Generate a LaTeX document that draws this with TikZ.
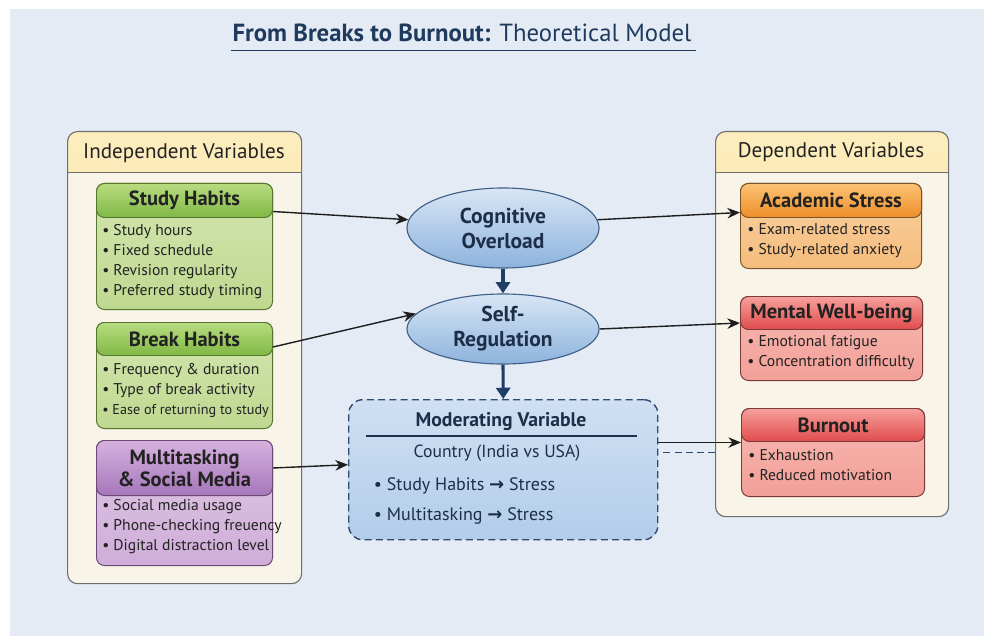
\documentclass[tikz,border=0pt]{standalone}
\usepackage{fontspec}
\setmainfont{PT Sans}
\newfontfamily\symfont{DejaVu Sans}
\usetikzlibrary{arrows.meta,positioning,shapes.geometric}

\definecolor{bgpanel}{HTML}{E5EBF5}
\definecolor{panelfill}{HTML}{F8F4E8}
\definecolor{panelline}{HTML}{6E6E6E}
\definecolor{panelheadtop}{HTML}{FDEDBE}
\definecolor{panelheadbot}{HTML}{F6D383}
\definecolor{textdark}{HTML}{222222}
\definecolor{titlenavy}{HTML}{1E3A5C}
\definecolor{greenline}{HTML}{56752E}
\definecolor{greenheadtop}{HTML}{B8DC80}
\definecolor{greenheadbot}{HTML}{80B845}
\definecolor{greenbodytop}{HTML}{D4E6B0}
\definecolor{greenbodybot}{HTML}{BFD890}
\definecolor{purpleline}{HTML}{6A4A74}
\definecolor{purpleheadtop}{HTML}{D6B2DF}
\definecolor{purpleheadbot}{HTML}{A676BA}
\definecolor{purplebodytop}{HTML}{E0C8E6}
\definecolor{purplebodybot}{HTML}{CFADD8}
\definecolor{orangeline}{HTML}{7A5328}
\definecolor{orangeheadtop}{HTML}{FBC474}
\definecolor{orangeheadbot}{HTML}{EE8E2A}
\definecolor{orangebodytop}{HTML}{F9D2A2}
\definecolor{orangebodybot}{HTML}{F5BC7C}
\definecolor{redline}{HTML}{7A3A38}
\definecolor{redheadtop}{HTML}{F6A09C}
\definecolor{redheadbot}{HTML}{E04C4C}
\definecolor{redbodytop}{HTML}{F7B8B2}
\definecolor{redbodybot}{HTML}{F2A098}
\definecolor{ellline}{HTML}{3E5F86}
\definecolor{elltop}{HTML}{D8E6F5}
\definecolor{ellbot}{HTML}{8DB3DD}
\definecolor{navytext}{HTML}{1C2E48}
\definecolor{modline}{HTML}{2F4A6E}
\definecolor{modtop}{HTML}{CFE0F2}
\definecolor{modbot}{HTML}{B2CDEA}
\definecolor{arrowdark}{HTML}{1E1E1E}
\definecolor{navy}{HTML}{1F3D66}

\tikzset{
	panel/.style={draw=panelline, fill=panelfill, line width=0.8pt, rounded corners=0.25cm, anchor=north west, inner sep=0pt,
		path picture={
			\shade[top color=panelheadtop, bottom color=panelheadbot, sharp corners] (path picture bounding box.north west) rectangle ([yshift=-1.025cm]path picture bounding box.north east);
			\draw[panelline, line width=0.8pt, sharp corners] ([yshift=-1.025cm]path picture bounding box.north west) -- ([yshift=-1.025cm]path picture bounding box.north east);
		}},
	paneltitle/.style={font=\fontsize{15}{17}\selectfont, text=textdark},
	bodybox/.style={draw=#1line, top color=#1bodytop, bottom color=#1bodybot, line width=0.7pt, rounded corners=0.2cm, anchor=north west, inner sep=0pt},
	headbox/.style={draw=#1line, top color=#1headtop, bottom color=#1headbot, line width=0.7pt, rounded corners=0.2cm, anchor=north west, inner sep=0pt,
		font=\fontsize{14.6}{15.6}\selectfont\bfseries, text=textdark, align=center},
	items/.style={anchor=west, inner sep=0pt, align=left, font=\fontsize{11.1}{14.2}\selectfont, text=textdark},
	latent/.style={ellipse, draw=ellline, line width=0.8pt, top color=elltop, bottom color=ellbot, inner sep=0pt, minimum width=4.8cm,
		font=\fontsize{15.3}{17.8}\selectfont\bfseries, text=navytext, align=center},
	modbox/.style={draw=modline, dash pattern=on 5pt off 3pt, line width=1pt, rounded corners=0.35cm, top color=modtop, bottom color=modbot,
		anchor=north west, inner sep=0pt, minimum width=7.725cm, minimum height=3.5cm},
	arr/.style={-{Stealth[length=9pt,width=7.5pt]}, line width=1pt, draw=arrowdark},
	flow/.style={-{Triangle[length=8pt,width=10pt]}, line width=2.2pt, draw=navy},
}

\begin{document}
\begin{tikzpicture}[x=0.025cm, y=-0.025cm]
	\useasboundingbox (0,0) rectangle (984,636);
	\fill[white] (0,0) rectangle (984,636);
	\fill[bgpanel] (10,9) rectangle (984,636);

	% title
	\node (title) [inner sep=0pt, text=titlenavy, font=\fontsize{17.6}{20}\selectfont] at (462,33) {{\bfseries From Breaks to Burnout:} Theoretical Model};
	\draw[titlenavy, line width=1pt] ([yshift=-0.2cm,xshift=-1pt]title.south west) -- ([yshift=-0.2cm,xshift=3pt]title.south east);

	% left and right panels
	\node (indep) [panel, minimum width=5.85cm, minimum height=11.3cm] at (67,131) {};
	\node (indeptitle) [paneltitle] at (184,153) {Independent Variables};
	\node (dep) [panel, minimum width=5.825cm, minimum height=9.625cm] at (715,131) {};
	\node (deptitle) [paneltitle] at (831,152) {Dependent Variables};

	% independent variables
	\node (studybody) [bodybox=green, minimum width=4.4cm, minimum height=3.15cm] at (96,183) {};
	\node (studyhead) [headbox=green, minimum width=4.4cm, minimum height=0.85cm] at (96,183) {Study Habits};
	\node (studyitems) [items] at (102,262) {• Study hours\\• Fixed schedule\\• Revision regularity\\• Preferred study timing};

	\node (breakbody) [bodybox=green, minimum width=4.4cm, minimum height=2.65cm] at (96,322) {};
	\node (breakhead) [headbox=green, minimum width=4.4cm, minimum height=0.825cm] at (96,322) {Break Habits};
	\node (breakitems) [items] at (102,390) {• Frequency \& duration\\• Type of break activity\\{\fontsize{10.1}{14.2}\selectfont • Ease of returning to study}};

	\node (multibody) [bodybox=purple, minimum width=4.4cm, minimum height=3.125cm] at (96,440) {};
	\node (multihead) [headbox=purple, minimum width=4.4cm, minimum height=1.375cm] at (96,440) {Multitasking\\\& Social Media};
	\node (multiitems) [items] at (102,527) {• Social media usage\\• Phone-checking freuency\\• Digital distraction level};

	% dependent variables
	\node (acadbody) [bodybox=orange, minimum width=4.525cm, minimum height=2.125cm] at (740,183) {};
	\node (acadhead) [headbox=orange, minimum width=4.525cm, minimum height=0.85cm] at (740,183) {Academic Stress};
	\node (acaditems) [items] at (747,240.5) {• Exam-related stress\\• Study-related anxiety};

	\node (mentalbody) [bodybox=red, minimum width=4.55cm, minimum height=2.1cm] at (740,296) {};
	\node (mentalhead) [headbox=red, minimum width=4.55cm, minimum height=0.825cm] at (740,296) {Mental Well-being};
	\node (mentalitems) [items] at (747,352.5) {• Emotional fatigue\\• Concentration difficulty};

	\node (burnbody) [bodybox=red, minimum width=4.575cm, minimum height=2.2cm] at (741,408) {};
	\node (burnhead) [headbox=red, minimum width=4.575cm, minimum height=0.825cm] at (741,408) {Burnout};
	\node (burnitems) [items] at (748,465) {• Exhaustion\\• Reduced motivation};

	% mediators
	\node (cog) [latent, minimum height=2cm] at (503,228) {Cognitive\\Overload};
	\node (selfreg) [latent, minimum height=1.75cm] at (503,329) {Self-\\Regulation};

	% moderator
	\node (mod) [modbox] at (348,399) {};
	\node (modtitle) [font=\fontsize{14}{16}\selectfont\bfseries, text=navytext] at (501,422) {Moderating Variable};
	\coordinate (ruleL) at (366,436);
	\coordinate (ruleR) at (637,436);
	\draw[navytext, line width=1pt] (ruleL) -- (ruleR);
	\node (country) [font=\fontsize{12.5}{14}\selectfont, text=navytext] at (497,453) {Country (India vs USA)};
	\node (modone) [anchor=west, font=\fontsize{12.8}{14}\selectfont, text=navytext] at (369,486) {• Study Habits {\symfont\bfseries →} Stress};
	\node (modtwo) [anchor=west, font=\fontsize{12.8}{14}\selectfont, text=navytext] at (369,516) {• Multitasking {\symfont\bfseries →} Stress};

	% connectors
	\coordinate (burnin) at ([yshift=0.25cm]burnbody.west);
	\draw[arr] ([yshift=-0.275cm]studyhead.east) -- (cog.175);
	\draw[arr] ([yshift=-0.2cm]breakhead.east) -- (selfreg.170);
	\draw[arr] (multihead.east) -- ([yshift=0.125cm]mod.west);
	\draw[arr] (cog.5) -- ([yshift=-0.3cm]acadhead.west);
	\draw[arr] (selfreg.east) -- ([yshift=-0.25cm]mentalhead.west);
	\draw[arr] (mod.east |- burnin) -- (burnin);
	\draw[dash pattern=on 5pt off 3pt, line width=1pt, draw=modline] ([xshift=0.12cm]mod.east |- burnbody.west) -- (dep.west |- burnbody.west);
	\draw[flow] (cog.south) -- (selfreg.north);
	\draw[flow] (selfreg.south) -- (mod.north);
\end{tikzpicture}
\end{document}
